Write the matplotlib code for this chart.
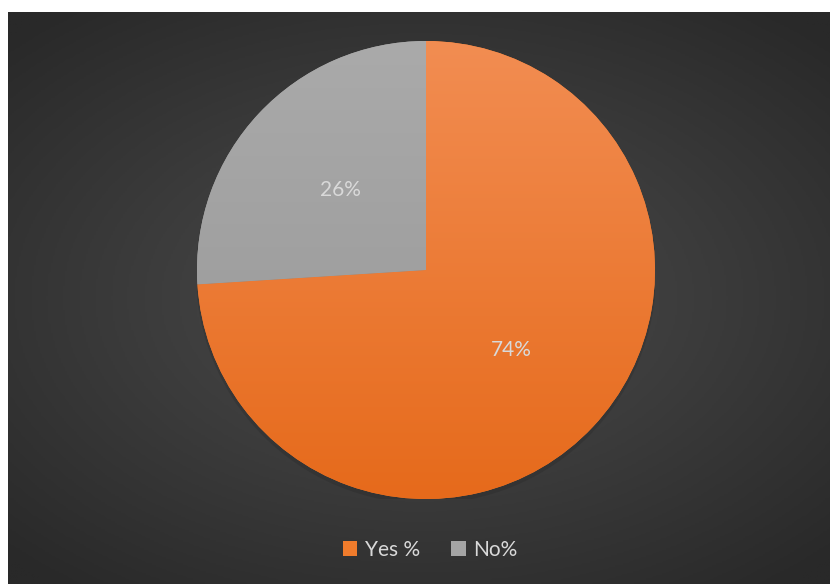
import numpy as np
import matplotlib.pyplot as plt
from matplotlib.patches import Patch
from matplotlib.colors import LinearSegmentedColormap

# Survey answers
labels = ['Yes %', 'No%']
shares = [74, 26]
colors = ['#f07c2c', '#a5a5a5']
tops = ['#f28d52', '#aaaaaa']
bottoms = ['#e66a1b', '#969696']
text_color = '#d9d9d9'
font = ['Lato', 'DejaVu Sans']

W, H = 830, 584
fig = plt.figure(figsize=(W / 100, H / 100), dpi=100)
fig.patch.set_facecolor('white')

# dark chart area with a soft radial glow in the middle
bg = fig.add_axes([8 / W, 0, 1 - 8 / W, 1 - 12 / H])
bg.set_axis_off()
yy, xx = np.mgrid[-1:1:300j, -1:1:400j]
r = np.sqrt((xx * 0.95) ** 2 + (yy * 1.05) ** 2)
glow = LinearSegmentedColormap.from_list('glow', ['#4c4c4c', '#3b3b3b', '#292929'])
bg.imshow(r, cmap=glow, vmin=0, vmax=1.35, extent=[0, 1, 0, 1], aspect='auto')
bg.set_xlim(0, 1)
bg.set_ylim(0, 1)

# pie centred at (426, 270) px from top-left, radius 229 px
cx, cy, rad = 426, 270, 229
ax = fig.add_axes([(cx - rad) / W, (H - cy - rad) / H, 2 * rad / W, 2 * rad / H])
ax.set_axis_off()

# faint drop shadow under the pie
shadow = plt.Circle((0.0, -0.015), 1.005, color='black', alpha=0.1, lw=0)
ax.add_patch(shadow)

wedges, texts = ax.pie(shares, colors=colors, startangle=90, counterclock=False,
                       labels=[f'{v}%' for v in shares], labeldistance=0.51,
                       wedgeprops=dict(linewidth=0),
                       textprops=dict(color=text_color, fontsize=15, family=font))
for t in texts:
    t.set_ha('center')
    t.set_va('center')
    t.set_zorder(5)

# vertical shading inside each slice
for w, c_top, c_bot in zip(wedges, tops, bottoms):
    cmap = LinearSegmentedColormap.from_list('s', [c_bot, c_top])
    grad = np.linspace(0, 1, 256).reshape(-1, 1)
    im = ax.imshow(grad, cmap=cmap, extent=[-1, 1, -1, 1], origin='lower',
                   aspect='auto', zorder=w.get_zorder() + 0.1)
    im.set_clip_path(w)

ax.set_xlim(-1, 1)
ax.set_ylim(-1, 1)

handles = [Patch(facecolor=c, edgecolor='none') for c in colors]
fig.legend(handles, labels, loc='center', bbox_to_anchor=(430 / W, 1 - 550 / H),
           ncol=2, frameon=False, handlelength=0.7, handleheight=0.7,
           handletextpad=0.35, columnspacing=1.5,
           prop=dict(family=font, size=15), labelcolor=text_color)

fig.savefig('out.png', dpi=100)
